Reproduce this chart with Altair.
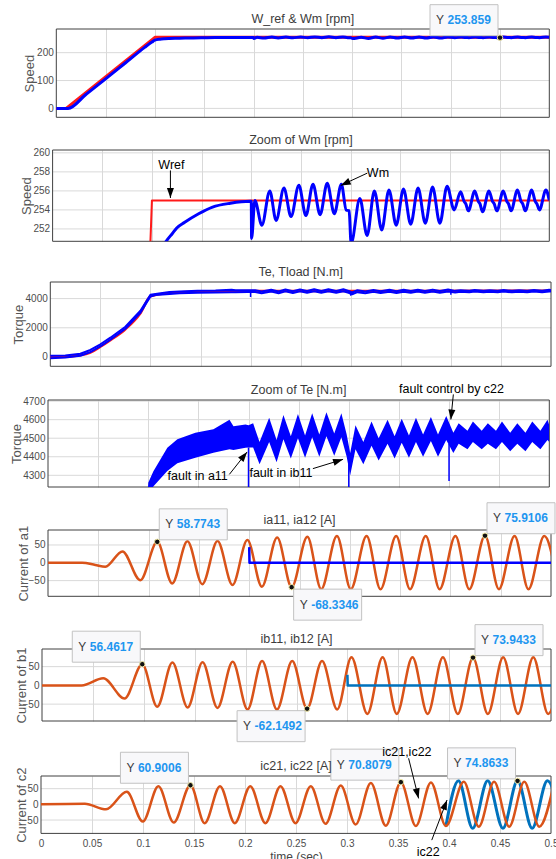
import altair as alt
import pandas as pd

FONT = "Liberation Sans"
RED = "#ff1a1a"
BLUE = "#0000ff"
ORANGE = "#d95319"
MBLUE = "#0072bd"
GRID = "#d9d9d9"
FRAME = "#404040"
LABEL = "#4d4d4d"
TITLE_C = "#3c3c3c"

# ---------------- layout (pixels) ----------------
panel_left = [56, 52.3, 50, 47.7, 47.7, 41.7, 40.7]
panel_width = [493, 496.7, 500.7, 501.3, 503, 509, 510]
panel_height = [88.3, 91.3, 84.3, 87, 66.3, 72, 57.4]
panel_gap = [32.4, 40.7, 33, 43, 52, 55, 0]
ytitle_x = [-26.4, -26.3, -31.5, -31.7, -24.7, -20.7, -19.7]
TOP = 29
PAD_LEFT = 5
BASE_LEFT = min(panel_left)
EXT = 60          # invisible corner markers that pin the page origin
FAR_X, FAR_Y = 600, 900

# ---------------- axes text ----------------
panel_title = ["W_ref  &  Wm  [rpm]", "Zoom of Wm [rpm]", "Te, Tload  [N.m]", "Zoom of Te  [N.m]",
               "ia11, ia12 [A]", "ib11, ib12 [A]", "ic21, ic22 [A]"]
y_title = ["Speed", "Speed", "Torque", "Torque", "Current of a1", "Current of b1", "Current of c2"]
y_domain = [[-32, 285], [250.7, 260.3], [-639, 5137], [4237, 4706], [-94, 92], [-95, 97], [-92.6, 90.4]]
y_ticks = [[0, 100, 200], [252, 254, 256, 258, 260], [0, 2000, 4000], [4300, 4400, 4500, 4600, 4700],
           [-50, 0, 50], [-50, 0, 50], [-50, 0, 50]]
x_grid = [0.05, 0.1, 0.15, 0.2, 0.25, 0.3, 0.35, 0.4, 0.45]
x_labels = [0, 0.05, 0.1, 0.15, 0.2, 0.25, 0.3, 0.35, 0.4, 0.45, 0.5]

# ---------------- data: speed ----------------
wref_t = [0, 0.01, 0.1, 0.5]
wref_v = [0, 0, 255, 255]

wm_t_a = [0, 0.012, 0.03, 0.05, 0.07, 0.09, 0.097, 0.1, 0.105, 0.11, 0.115, 0.1204, 0.125, 0.133,
          0.147, 0.161, 0.179, 0.199]
wm_v_a = [0, 0, 50, 106, 163, 220, 238, 245, 248.5, 250, 250.8, 251.5, 252.1, 252.7,
          253.6, 254.3, 254.7, 254.9]
wm_t_b = [0.2, 0.2003, 0.2036, 0.2107, 0.2186, 0.225, 0.2329, 0.24, 0.2479, 0.255, 0.2621, 0.2693,
          0.2764, 0.2836, 0.2907, 0.2955, 0.2985]
wm_v_b = [254.9, 251.0, 255.0, 252.4, 256.0, 252.9, 256.3, 253.3, 256.6, 253.4, 256.7, 253.5,
          256.8, 253.6, 256.7, 254.0, 253.9]
wm_t_c = [0.3005, 0.3093, 0.3166, 0.3239, 0.3313, 0.3386, 0.3459, 0.3532, 0.3605, 0.3679, 0.3752,
          0.3825, 0.3898, 0.3971]
wm_v_c = [250.5, 255.2, 251.3, 256.0, 251.9, 256.1, 252.4, 256.2, 252.5, 256.3, 252.6,
          256.4, 252.6, 256.5]
wm_t_d = [0.4042, 0.4107, 0.4142, 0.4159, 0.4185, 0.4250, 0.4285, 0.4302, 0.4328, 0.4393, 0.4428,
          0.4445, 0.4472, 0.4537, 0.4572, 0.4589, 0.4615, 0.4680, 0.4715, 0.4732, 0.4758, 0.4823,
          0.4858, 0.4875, 0.4901, 0.4966, 0.5]
wm_v_d = [254.0, 255.9, 254.9, 254.65, 253.9, 256.0, 254.9, 254.65, 253.8, 256.0, 254.9,
          254.65, 253.9, 256.0, 254.9, 254.65, 253.9, 256.1, 254.9, 254.65, 253.9, 256.1,
          254.9, 254.65, 254.0, 256.1, 255.0]
wm_t = wm_t_a + wm_t_b + wm_t_c + wm_t_d
wm_v = wm_v_a + wm_v_b + wm_v_c + wm_v_d

# ---------------- data: torque (Te ripple band low / high edge) ----------------
te_t = [0, 0.015, 0.03, 0.04, 0.05, 0.06, 0.075, 0.09, 0.1, 0.105, 0.119, 0.129, 0.147, 0.165, 0.181,
        0.185, 0.197, 0.2, 0.2046, 0.211, 0.2206, 0.228, 0.2348, 0.2422, 0.2493, 0.2564, 0.2635,
        0.2706, 0.2777, 0.2855, 0.2926, 0.2979, 0.3014, 0.3067, 0.3145, 0.3227, 0.3298, 0.3387,
        0.3457, 0.3528, 0.36, 0.367, 0.3741, 0.3819, 0.389, 0.3972, 0.4043, 0.4096, 0.4184, 0.4238,
        0.4326, 0.4387, 0.4468, 0.4528, 0.461, 0.4681, 0.4762, 0.483, 0.4911, 0.4982, 0.5]
te_lo = [-80, -40, 80, 330, 730, 1180, 1930, 3030, 4140, 4240, 4323, 4365, 4395, 4422, 4440,
         4436, 4449,
         4450, 4450, 4360, 4480, 4370, 4495, 4390, 4500, 4395, 4505, 4400, 4510, 4405, 4505, 4400,
         4300, 4440, 4360, 4460, 4380, 4470, 4390, 4475, 4395, 4480, 4400, 4485, 4400, 4490,
         4420, 4470, 4440, 4480, 4440, 4470, 4440, 4480, 4430, 4470, 4430, 4480, 4440, 4490, 4480]
te_hi = [80, 100, 220, 480, 870, 1320, 2070, 3170, 4260, 4320, 4449, 4494, 4530, 4548, 4600,
         4565, 4574,
         4570, 4580, 4480, 4610, 4490, 4625, 4510, 4630, 4515, 4635, 4520, 4640, 4525, 4635, 4520,
         4420, 4570, 4480, 4590, 4500, 4600, 4510, 4605, 4515, 4610, 4520, 4615, 4520, 4620,
         4530, 4580, 4540, 4590, 4540, 4580, 4540, 4590, 4530, 4580, 4530, 4590, 4540, 4600, 4570]
tl_t = [0, 0.02, 0.04, 0.05, 0.06, 0.075, 0.09, 0.1, 0.12, 0.15, 0.2, 0.5]
tl_v = [0, 40, 300, 700, 1150, 1900, 3000, 4150, 4380, 4470, 4520, 4530]
spk_t = [0.2, 0.3, 0.4]
spk_top = [4450, 4400, 4470]
spk_low = [4110, 4200, 4270]

# ---------------- data: currents ----------------
ia_t = [0, 0.034, 0.047, 0.057, 0.074, 0.0917, 0.1086, 0.1234, 0.1386, 0.1534, 0.1685, 0.1834,
        0.1982, 0.2126, 0.2278, 0.2422, 0.2578, 0.2716, 0.2872, 0.301, 0.3167, 0.3305, 0.3461,
        0.3599, 0.3755, 0.3893, 0.405, 0.4188, 0.4344, 0.4482, 0.4638, 0.4776, 0.4933, 0.5077]
ia_v = [0, 0, -6, -11, 32, -49, 58.7743, -58, 60.5, -60, 61, -62,
        64, -67, 71, -68.3346, 73, -74, 75, -74, 75, -74, 75,
        -74, 75, -74, 75, -74, 75.9106, -74, 75, -74, 75, -74]
ia12_t = [0.2, 0.2003, 0.5]
ia12_v = [44, 0, 0]

ib_t = [0, 0.039, 0.0602, 0.0811, 0.0985, 0.1132, 0.1281, 0.1431, 0.1577, 0.1724, 0.1873, 0.2019,
        0.2162, 0.2308, 0.2458, 0.2604, 0.2751, 0.29, 0.304, 0.3196, 0.3346, 0.3485, 0.3639,
        0.3788, 0.3938, 0.4084, 0.4234, 0.438, 0.453, 0.4676, 0.4826, 0.4972, 0.512]
ib_v = [0, 0, 19, -35, 56.4617, -57, 61, -59, 62, -60, 63, -64,
        65, -64, 65, -62.1492, 65, -64, 75, -76, 75, -76, 75,
        -76, 75, -76, 73.9433, -76, 75, -76, 75, -76, 75]
ib12_t = [0.3, 0.3003, 0.5]
ib12_v = [28, 0, 0]

ic_t = [0, 0.043, 0.0638, 0.0841, 0.0998, 0.1151, 0.1301, 0.1465, 0.1605, 0.1755, 0.19, 0.2052,
        0.22, 0.2348, 0.2495, 0.2645, 0.279, 0.2939, 0.3085, 0.3234, 0.338, 0.3528, 0.3675,
        0.3823, 0.397, 0.4145, 0.4292, 0.4442, 0.459, 0.4738, 0.4885, 0.5033]
ic_v = [0, 2, -16, 40, -55, 58, -58, 60.9006, -60, 58, -60, 58,
        -60, 58, -60, 58, -62, 60, -64, 68, -68, 70.8079, -69,
        70, -69, 72, -71, 72, -71, 72, -71, 72]
ic22_t = [0.397, 0.4093, 0.4232, 0.4379, 0.4529, 0.4672, 0.4815, 0.4965, 0.511]
ic22_v = [-69, 75, -76, 75, -76, 74.8633, -76, 75, -76]

# ---------------- data tips ----------------
tip_panel = [1, 5, 5, 5, 6, 6, 6, 7, 7, 7]
tip_t = [0.45, 0.1086, 0.2422, 0.4344, 0.0985, 0.2604, 0.4234, 0.1465, 0.3528, 0.4672]
tip_v = [253.859, 58.7743, -68.3346, 75.9106, 56.4617, -62.1492, 73.9433, 60.9006, 70.8079, 74.8633]
tip_label = ["253.859", "58.7743", "-68.3346", "75.9106", "56.4617", "-62.1492", "73.9433",
             "60.9006", "70.8079", "74.8633"]
tip_side = ["UL", "UR", "DR", "UR", "UL", "DL", "UR", "UL", "UL", "UL"]

# ---------------- annotations ----------------
note_panel = [2, 2, 4, 4, 4, 7, 7]
note_text = ["Wref", "Wm", "fault in a11", "fault in ib11", "fault control by c22", "ic21,ic22", "ic22"]
note_t = [0.1196, 0.3275, 0.1493, 0.2323, 0.4025, 0.3587, 0.3796]
note_v = [258.74, 257.9, 4296, 4314, 4763, 168, -151]
arrow_panel = [2, 2, 4, 4, 4, 7, 7]
arrow_t0 = [0.1186, 0.3168, 0.1809, 0.2642, 0.4043, 0.3604, 0.3831]
arrow_v0 = [258.15, 257.87, 4305, 4336, 4736, 146.8, -114]
arrow_t1 = [0.1186, 0.29, 0.1986, 0.2943, 0.4018, 0.3702, 0.3981]
arrow_v1 = [255.25, 256.57, 4426, 4386, 4601, 19, 13.8]
arrow_ang = [180, 245, 39, 73, 186, 166, 21]

HEAD = "M0,0L-3.5,10L3.5,10Z"
ONE = pd.DataFrame({"a": [0]})


def off(i):
    return panel_left[i] - BASE_LEFT


def x_axis(bottom):
    if bottom:
        return alt.Axis(title="time (sec)", values=x_labels, format=".2~f", grid=True,
                        gridColor=GRID, gridWidth=1,
                        gridOpacity={"condition": {"test": "datum.value <= 0.001 || datum.value >= 0.499",
                                                   "value": 0}, "value": 1},
                        ticks=False, domain=False, labelFont=FONT, labelFontSize=10,
                        labelColor=LABEL, labelPadding=5, labelFlush=False, labelOverlap=False,
                        titleFont=FONT, titleFontSize=12, titleFontWeight="normal",
                        titleColor="#444444", titlePadding=3)
    return alt.Axis(title=None, values=x_grid, grid=True, gridColor=GRID, gridWidth=1,
                    labels=False, ticks=False, domain=False)


def y_axis(i):
    return alt.Axis(title=y_title[i], values=y_ticks[i], format="d", grid=False, offset=-off(i),
                    ticks=False, domain=False, labelFont=FONT, labelFontSize=10,
                    labelColor=LABEL, labelPadding=3, labelOverlap=False, titleFont=FONT,
                    titleFontSize=13, titleFontWeight="normal", titleColor="#555555",
                    titleX=ytitle_x[i], titleY=panel_height[i] / 2, titleAngle=270,
                    titleAlign="center", titleBaseline="middle")


def encs(i, bottom=False):
    o = off(i)
    X = alt.X("t:Q", scale=alt.Scale(domain=[0, 0.5], range=[o, o + panel_width[i]], nice=False, zero=False),
              axis=x_axis(bottom))
    Y = alt.Y("v:Q", scale=alt.Scale(domain=y_domain[i], nice=False, zero=False), axis=y_axis(i))
    return X, Y


def line(t, v, X, Y, color, width, interp="monotone"):
    df = pd.DataFrame({"t": t, "v": v})
    return alt.Chart(df).mark_line(color=color, strokeWidth=width, interpolate=interp, clip=True,
                                   strokeJoin="round").encode(x=X, y=Y)


def frame_layers(i, X, Y):
    gdf = pd.DataFrame({"v": y_ticks[i], "t": [0] * len(y_ticks[i]), "t2": [0.5] * len(y_ticks[i])})
    o = off(i)
    return [
        alt.Chart(gdf).mark_rule(color=GRID, strokeWidth=1).encode(x=X, x2=alt.X2("t2:Q"), y=Y),
        alt.Chart(ONE).mark_rect(fillOpacity=0, stroke=FRAME, strokeWidth=1).encode(
            x=alt.value(o), x2=alt.value(o + panel_width[i]), y=alt.value(0), y2=alt.value(panel_height[i])),
    ]


def title_mark(i):
    return alt.Chart(ONE).mark_text(text=panel_title[i], font=FONT, fontSize=12.5, color=TITLE_C,
                                    align="center", baseline="middle").encode(
        x=alt.value(off(i) + panel_width[i] / 2), y=alt.value(-10))


def tip_layers(panel, X, Y):
    layers = []
    for p, t, v, lab, side in zip(tip_panel, tip_t, tip_v, tip_label, tip_side):
        if p != panel:
            continue
        df = pd.DataFrame({"t": [t], "v": [v], "s": [lab]})
        x0, x1 = (-70, -2) if side[1] == "L" else (2, 70)
        y0, y1 = (-33, -2) if side[0] == "U" else (2, 33)
        path = f"M{x0},{y0}L{x1},{y0}L{x1},{y1}L{x0},{y1}Z"
        cy = (y0 + y1) / 2
        layers.append(alt.Chart(df).mark_point(shape=path, size=4, filled=True, fill="#f8f8fa",
                                               stroke="#c2c2c2", strokeWidth=1, opacity=1).encode(x=X, y=Y))
        layers.append(alt.Chart(df).mark_text(text="Y", dx=x0 + 6, dy=cy, align="left", baseline="middle",
                                              font=FONT, fontSize=12, color="#3a3a3a").encode(x=X, y=Y))
        layers.append(alt.Chart(df).mark_text(dx=x0 + 17.5, dy=cy, align="left", baseline="middle",
                                              font=FONT, fontSize=12, fontWeight="bold",
                                              color="#1e96f0").encode(x=X, y=Y, text="s:N"))
        layers.append(alt.Chart(df).mark_point(shape="circle", size=30, filled=True, fill="#111111",
                                               stroke="#f2eaa8", strokeWidth=1, opacity=1).encode(x=X, y=Y))
    return layers


def note_layers(panel, X, Y):
    idx = [k for k, p in enumerate(note_panel) if p == panel]
    tdf = pd.DataFrame({"t": [note_t[k] for k in idx], "v": [note_v[k] for k in idx],
                        "s": [note_text[k] for k in idx]})
    aidx = [k for k, p in enumerate(arrow_panel) if p == panel]
    adf = pd.DataFrame({"t": [arrow_t0[k] for k in aidx], "v": [arrow_v0[k] for k in aidx],
                        "t2": [arrow_t1[k] for k in aidx], "v2": [arrow_v1[k] for k in aidx]})
    hdf = pd.DataFrame({"t": [arrow_t1[k] for k in aidx], "v": [arrow_v1[k] for k in aidx],
                        "ang": [arrow_ang[k] for k in aidx]})
    return [
        alt.Chart(adf).mark_rule(color="black", strokeWidth=1).encode(
            x=X, y=Y, x2=alt.X2("t2:Q"), y2=alt.Y2("v2:Q")),
        alt.Chart(hdf).mark_point(shape=HEAD, size=4, filled=True, fill="black", opacity=1).encode(
            x=X, y=Y, angle=alt.Angle("ang:Q", scale=None)),
        alt.Chart(tdf).mark_text(font=FONT, fontSize=12.5, color="black", align="center",
                                 baseline="middle").encode(x=X, y=Y, text="s:N"),
    ]


def panel(i, X, Y, layers):
    return alt.layer(*frame_layers(i, X, Y), *layers, title_mark(i)).properties(
        width=off(i) + panel_width[i], height=panel_height[i])


def spacer(w, h):
    return (alt.Chart(ONE).mark_point(size=1, opacity=0)
            .encode(x=alt.value(2), y=alt.value(2))
            .properties(width=w, height=h))


# invisible far-corner markers: they fix the page origin and the cropped page size
corner_df = pd.DataFrame({"px": [-EXT + 0.5, FAR_X], "py": [-EXT + 0.5, FAR_Y]})
corner = (alt.Chart(corner_df).mark_point(size=0, opacity=0, strokeWidth=0)
          .encode(x=alt.X("px:Q", scale=None, axis=None), y=alt.Y("py:Q", scale=None, axis=None))
          .properties(width=1, height=TOP))

# Panel 1
X, Y = encs(0)
p1 = panel(0, X, Y, [line(wref_t, wref_v, X, Y, RED, 3, "linear"),
                     line(wm_t, wm_v, X, Y, BLUE, 3)] + tip_layers(1, X, Y))

# Panel 2
X, Y = encs(1)
p2 = panel(1, X, Y, [line(wref_t, wref_v, X, Y, RED, 2, "linear"),
                     line(wm_t, wm_v, X, Y, BLUE, 3)] + note_layers(2, X, Y))

# Panel 3
X, Y = encs(2)
spk_df = pd.DataFrame({"t": spk_t, "v": spk_top, "v2": spk_low})
p3 = panel(2, X, Y, [line(tl_t, tl_v, X, Y, RED, 2.5),
                     line(te_t, te_hi, X, Y, BLUE, 2, "linear"),
                     line(te_t, te_lo, X, Y, BLUE, 2, "linear"),
                     alt.Chart(spk_df).mark_rule(color=BLUE, strokeWidth=1.5, clip=True).encode(
                         x=X, y=Y, y2=alt.Y2("v2:Q"))])

# Panel 4
X, Y = encs(3)
band_df = pd.DataFrame({"t": te_t, "v": te_lo, "v2": te_hi})
p4 = panel(3, X, Y, [alt.Chart(band_df).mark_area(color=BLUE, opacity=1, clip=True,
                                                  interpolate="linear").encode(x=X, y=Y, y2=alt.Y2("v2:Q")),
                     alt.Chart(spk_df).mark_rule(color=BLUE, strokeWidth=1.5, clip=True).encode(
                         x=X, y=Y, y2=alt.Y2("v2:Q"))] + note_layers(4, X, Y))

# Panel 5
X, Y = encs(4)
p5 = panel(4, X, Y, [line(ia_t, ia_v, X, Y, ORANGE, 2.5),
                     line(ia12_t, ia12_v, X, Y, BLUE, 2.5, "linear")] + tip_layers(5, X, Y))

# Panel 6
X, Y = encs(5)
p6 = panel(5, X, Y, [line(ib_t, ib_v, X, Y, ORANGE, 2.5),
                     line(ib12_t, ib12_v, X, Y, MBLUE, 2.5, "linear")] + tip_layers(6, X, Y))

# Panel 7
X, Y = encs(6, bottom=True)
p7 = panel(6, X, Y, [line(ic22_t, ic22_v, X, Y, MBLUE, 3),
                     line(ic_t, ic_v, X, Y, ORANGE, 2.5)] + tip_layers(7, X, Y) + note_layers(7, X, Y))

panels = [p1, p2, p3, p4, p5, p6, p7]
cells = [corner, spacer(1, 1)]
for i, p in enumerate(panels):
    cells.append(spacer(BASE_LEFT - PAD_LEFT, panel_height[i] + panel_gap[i]))
    cells.append(p)

pad = {"left": PAD_LEFT - EXT, "top": -EXT,
       "right": 556 - (FAR_X + EXT) - (PAD_LEFT - EXT), "bottom": 859 - (FAR_Y + EXT) + EXT}

chart = (alt.concat(*cells, columns=2, spacing=0, bounds="flush",
                    align={"row": "each", "column": "none"})
         .properties(padding=pad, background="white")
         .configure(font=FONT)
         .configure_view(strokeOpacity=0))

chart.save("out.html", embed_options={"renderer": "svg", "actions": False})
